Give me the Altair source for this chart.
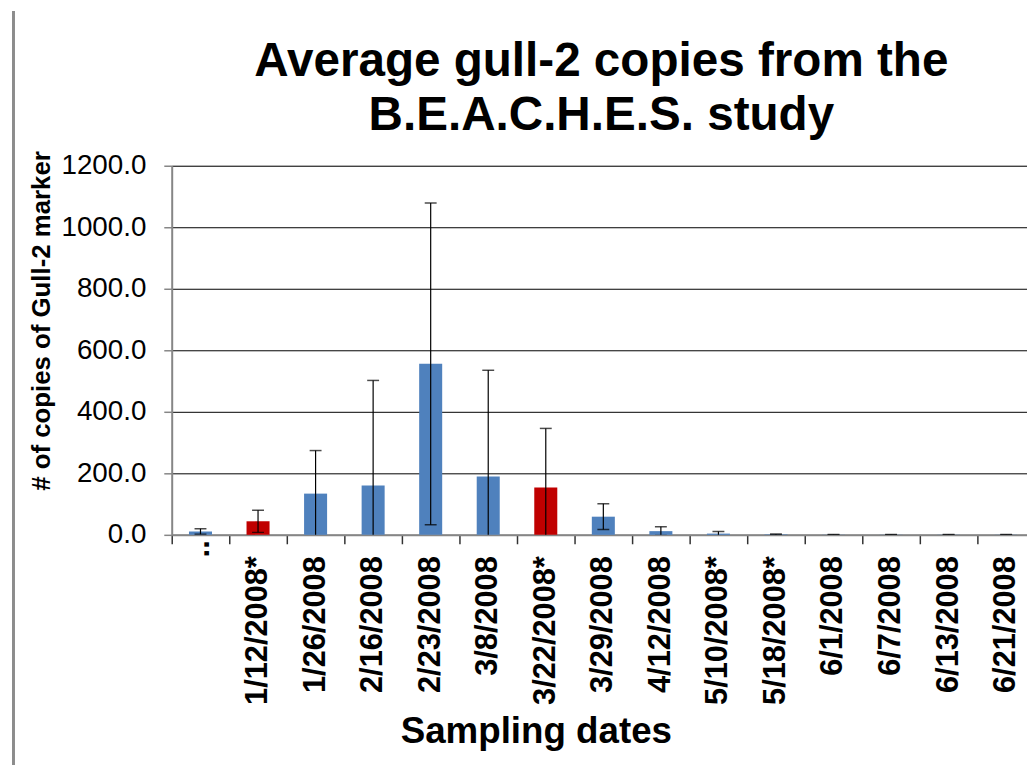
import altair as alt
import pandas as pd

dates = ["..", "1/12/2008*", "1/26/2008", "2/16/2008", "2/23/2008", "3/8/2008",
         "3/22/2008*", "3/29/2008", "4/12/2008", "5/10/2008*", "5/18/2008*",
         "6/1/2008", "6/7/2008", "6/13/2008", "6/21/2008"]
means = [11, 44, 134, 160, 556, 190, 154, 59, 12, 4, 1.5, 0.5, 0.5, 0.5, 0.5]
errors = [9, 36, 140, 342, 523, 345, 192, 42, 14, 7, 1.5, 0.5, 0.5, 0.5, 0.5]
groups = ["blue", "red", "blue", "blue", "blue", "blue", "red", "blue", "blue",
          "blue", "blue", "blue", "blue", "blue", "blue"]
y_ticks = [0, 200, 400, 600, 800, 1000, 1200]

df = pd.DataFrame({"date": dates, "mean": means, "err": errors, "group": groups})
df["lo"] = df["mean"] - df["err"]
df["hi"] = df["mean"] + df["err"]

FONT = "Liberation Sans"

x_enc = alt.X("date:N", sort=dates,
              scale=alt.Scale(paddingInner=0, paddingOuter=0, range=[0, 870]),
              axis=alt.Axis(title="Sampling dates", labelAngle=270, labelAlign="right",
                            labelBaseline="middle", labelFontSize=31, labelFontWeight="bold",
                            labelFont=FONT, labelColor="black",
                            labelPadding={"expr": "datum.value == '..' ? -4 : 12"},
                            labelOverlap=False, labelLimit=400,
                            tickSize=9, tickColor="#333333", tickWidth=1.5, bandPosition=0,
                            domainColor="#868686", domainWidth=2,
                            titleFont=FONT, titleFontSize=37, titleFontWeight="bold",
                            titleColor="black", titleX=367, titleY=209,
                            titleAlign="center", titleBaseline="alphabetic"))

y_scale = alt.Scale(domain=[0, 1200], nice=False)

bars = alt.Chart(df).mark_bar(width=alt.RelativeBandSize(0.4)).encode(
    x=x_enc,
    y=alt.Y("mean:Q", scale=y_scale,
            axis=alt.Axis(title="# of copies of Gull-2 marker", values=y_ticks, format=".1f",
                          labelFont=FONT, labelFontSize=28, labelColor="black",
                          labelPadding=18, tickSize=8, tickColor="#868686", tickWidth=1.5,
                          domainColor="#868686", domainWidth=2,
                          grid=True, gridColor="black", gridWidth=1,
                          titleFont=FONT, titleFontSize=26, titleFontWeight="bold",
                          titleColor="black", titleAngle=270, titleX=-131, titleY=156,
                          titleAlign="center", titleBaseline="middle")),
    color=alt.Color("group:N", scale=alt.Scale(domain=["blue", "red"],
                                               range=["#4F81BD", "#C00000"]), legend=None),
)

rules = alt.Chart(df).mark_rule(color="black", strokeWidth=1.2, clip=True).encode(
    x=alt.X("date:N", sort=dates, bandPosition=0.5),
    y=alt.Y("lo:Q", scale=y_scale),
    y2="hi:Q",
)

caps_hi = alt.Chart(df).mark_tick(color="black", size=12, thickness=1.5, clip=True).encode(
    x=alt.X("date:N", sort=dates, bandPosition=0.5),
    y=alt.Y("hi:Q", scale=y_scale),
)
caps_lo = alt.Chart(df).mark_tick(color="black", size=12, thickness=1.5, clip=True).encode(
    x=alt.X("date:N", sort=dates, bandPosition=0.5),
    y=alt.Y("lo:Q", scale=y_scale),
)

border = alt.Chart(df).mark_rule(color="#8c8c8c", strokeWidth=1.5).encode(
    x=alt.value(-159.5), y=alt.value(-156), y2=alt.value(610)
)

chart = alt.layer(bars, rules, caps_hi, caps_lo, border).properties(
    width=862, height=372,
    title=alt.TitleParams(
        text=["Average gull-2 copies from the", "B.E.A.C.H.E.S. study"],
        font=FONT, fontSize=48, fontWeight="bold", color="black",
        lineHeight=55, anchor="middle", dx=2, offset=0, dy=169,
        baseline="alphabetic",
    ),
    autosize=alt.AutoSizeParams(type="none"),
    padding={"left": 165, "top": 156, "right": 0, "bottom": 229},
).configure_view(stroke=None).configure(background="white")

chart.save("out.html", embed_options={"renderer": "svg", "actions": False})
